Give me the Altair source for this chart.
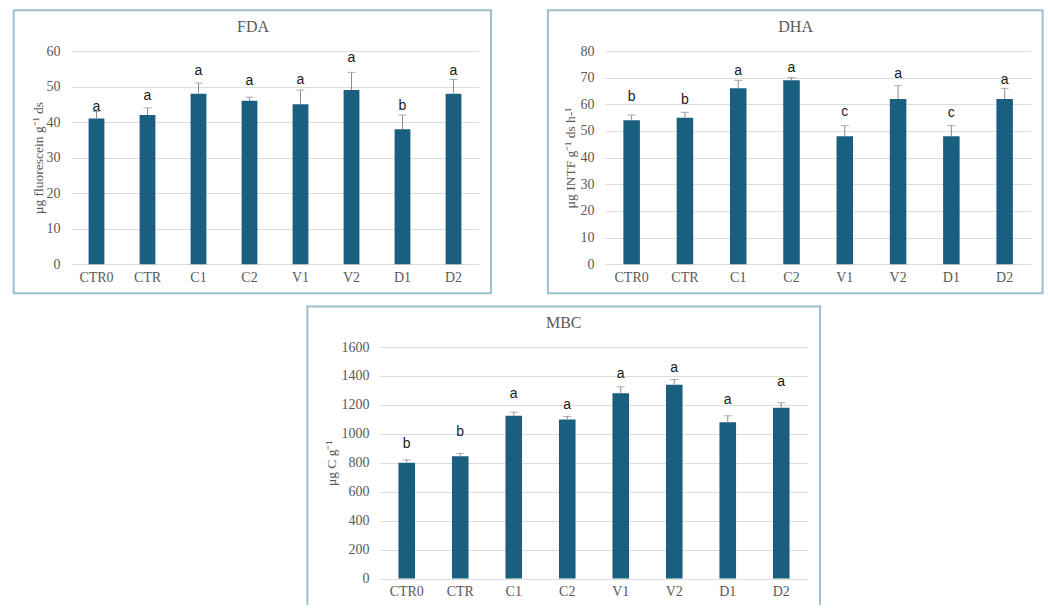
import altair as alt
import pandas as pd

# Treatments on the x axis of every panel
categories = ["CTR0", "CTR", "C1", "C2", "V1", "V2", "D1", "D2"]

# FDA hydrolysis (µg fluorescein g-1 ds)
fda_mean = [41, 42, 48, 46, 45, 49, 38, 48]
fda_err = [2, 2, 3, 1, 4, 5, 4, 4]
fda_letters = ["a", "a", "a", "a", "a", "a", "b", "a"]
fda_letter_y = [44.2, 47.4, 54.5, 51.5, 51.8, 58.0, 44.5, 54.5]
fda_ticks = [0, 10, 20, 30, 40, 50, 60]

# Dehydrogenase activity (µg INTF g-1 ds h-1)
dha_mean = [54, 55, 66, 69, 48, 62, 48, 62]
dha_err = [2, 2, 3, 1, 4, 5, 4, 4]
dha_letters = ["b", "b", "a", "a", "c", "a", "c", "a"]
dha_letter_y = [62.7, 61.5, 72.5, 73.7, 57.3, 71.2, 56.9, 69.0]
dha_ticks = [0, 10, 20, 30, 40, 50, 60, 70, 80]

# Microbial biomass carbon (µg C g-1)
mbc_mean = [800, 845, 1125, 1100, 1280, 1340, 1080, 1180]
mbc_err = [20, 20, 25, 20, 45, 35, 45, 35]
mbc_letters = ["b", "b", "a", "a", "a", "a", "a", "a"]
mbc_letter_y = [928, 1013, 1278, 1199, 1416, 1457, 1234, 1358]
mbc_ticks = [0, 200, 400, 600, 800, 1000, 1200, 1400, 1600]

BAR = "#1a5f80"
ERR = "#8c8c8c"
GRID = "#dcdcdc"
TEXT = "#595959"
FRAME = "#9dbfd3"
SERIF = "Liberation Serif"
SANS = "Liberation Sans"


def panel(name, ytitle, means, errs, letters, letter_y, ticks,
          w, h, box, title_pos, title_x, open_bottom=False):
    df = pd.DataFrame({
        "cat": categories,
        "mean": means,
        "top": [m + e for m, e in zip(means, errs)],
        "letter": letters,
        "ly": letter_y,
    })
    one = pd.DataFrame({"t": [name]})

    x_axis = alt.Axis(title=None, labelAngle=0, ticks=False, domain=False,
                      grid=False, labelFont=SERIF, labelFontSize=14,
                      labelColor=TEXT, labelPadding=6)
    y_axis = alt.Axis(title=ytitle, values=ticks, format="d", ticks=False,
                      domain=False, grid=True, gridColor=GRID, gridWidth=1,
                      labelOverlap=False, labelFont=SERIF, labelFontSize=14,
                      labelColor=TEXT, labelPadding=11, titleFont=SERIF,
                      titleFontSize=13.5, titleFontWeight="normal",
                      titleColor=TEXT, titleX=title_x, titleY=h / 2,
                      titleBaseline="middle", titleAngle=270)
    x_scale = alt.Scale(paddingInner=0.69, paddingOuter=0.345)
    y_scale = alt.Scale(domain=[ticks[0], ticks[-1]], nice=False)

    def xe():
        return alt.X("cat:N", sort=categories, axis=x_axis, scale=x_scale)

    def ye(field):
        return alt.Y(field, axis=y_axis, scale=y_scale)

    base = alt.Chart(df)
    bars = base.mark_bar(color=BAR).encode(x=xe(), y=ye("mean:Q"))
    err_line = base.mark_rule(color=ERR, strokeWidth=1).encode(
        x=xe(), y=ye("mean:Q"), y2="top:Q")
    err_cap = base.mark_tick(color=ERR, size=8, thickness=1,
                             orient="horizontal").encode(x=xe(), y=ye("top:Q"))
    labels = base.mark_text(font=SANS, fontSize=14, color="#1a1a1a",
                            baseline="middle", align="center").encode(
        x=xe(), y=ye("ly:Q"), text="letter:N")

    L, R, T, B = box
    edge = alt.Chart(one)
    if open_bottom:
        frame = [
            edge.mark_rule(stroke=FRAME, strokeWidth=2, strokeCap="square").encode(
                x=alt.value(L), y=alt.value(T), y2=alt.value(B)),
            edge.mark_rule(stroke=FRAME, strokeWidth=2, strokeCap="square").encode(
                x=alt.value(L), x2=alt.value(R), y=alt.value(T)),
            edge.mark_rule(stroke=FRAME, strokeWidth=2, strokeCap="square").encode(
                x=alt.value(R), y=alt.value(T), y2=alt.value(B)),
        ]
    else:
        frame = [edge.mark_rect(fillOpacity=0, stroke=FRAME, strokeWidth=2).encode(
            x=alt.value(L), x2=alt.value(R), y=alt.value(T), y2=alt.value(B))]

    title = edge.mark_text(font=SERIF, fontSize=16, color=TEXT,
                           baseline="middle", align="center").encode(
        x=alt.value(title_pos[0]), y=alt.value(title_pos[1]), text="t:N")

    return alt.layer(*frame, bars, err_line, err_cap, labels, title).properties(
        width=w, height=h)


fda = panel("FDA", "µg fluorescein g⁻¹ ds", fda_mean, fda_err, fda_letters,
            fda_letter_y, fda_ticks, 408, 213.3,
            (-57.3, 420, -40.7, 242.3), (182, -23.7), -33)
dha = panel("DHA", "µg INTF g⁻¹ ds h-¹", dha_mean, dha_err, dha_letters,
            dha_letter_y, dha_ticks, 426.3, 213.3,
            (-57.1, 437.6, -40.7, 242.3), (190.6, -23.7), -35)
mbc = panel("MBC", "μg C g⁻¹", mbc_mean, mbc_err, mbc_letters,
            mbc_letter_y, mbc_ticks, 428, 231.6,
            (-72.6, 440, -40.4, 257), (183.7, -23.7), -49, open_bottom=True)

# empty cell that shifts the lower panel to the right
spacer = alt.Chart(pd.DataFrame({"t": [""]})).mark_rect(opacity=0).encode(
    x=alt.value(0), x2=alt.value(232.7), y=alt.value(0), y2=alt.value(1)
).properties(width=232.7, height=1)

top_row = alt.hconcat(fda, dha, spacing=53).resolve_scale(
    x="independent", y="independent")
bottom_row = alt.hconcat(spacer, mbc, spacing=0).resolve_scale(
    x="independent", y="independent")

chart = alt.vconcat(top_row, bottom_row, spacing=9).resolve_scale(
    x="independent", y="independent"
).properties(
    padding={"left": 12, "top": 8, "right": 0, "bottom": 0},
    background="white",
).configure_view(stroke="transparent")

chart.save("out.html", embed_options={"renderer": "svg", "actions": False})
